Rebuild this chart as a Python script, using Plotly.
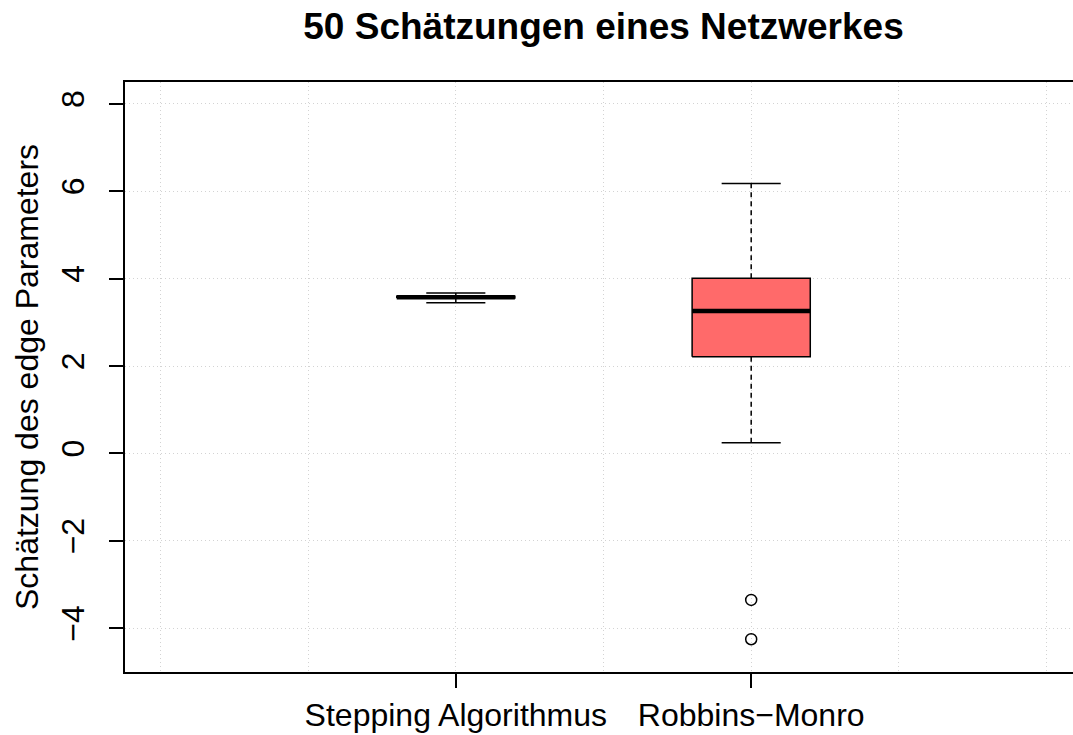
import plotly.graph_objects as go

# Five-number summaries of the two estimators (50 runs each)
groups = ["Stepping Algorithmus", "Robbins\u2212Monro"]
positions = [1, 2]
lower_whisker = [3.451, 0.247]
q1 = [3.555, 2.215]
median = [3.574, 3.26]
q3 = [3.595, 4.009]
upper_whisker = [3.673, 6.18]
box_fill = ["#FFFFFF", "#FF6A6A"]

# Outlying estimates (Robbins-Monro only)
outlier_x = [2, 2]
outlier_y = [-3.35, -4.25]

y_ticks = [-4, -2, 0, 2, 4, 6, 8]
y_ticktext = [("\u2212" + str(-v)) if v < 0 else str(v) for v in y_ticks]

FONT = "Liberation Sans, Arial, Helvetica, sans-serif"
BOX_HALF = 0.2      # half box width in x units
STAPLE_HALF = 0.1   # half staple width

fig = go.Figure()

for i, x in enumerate(positions):
    # dashed whiskers from box edge to staple
    for lo, hi in ((lower_whisker[i], q1[i]), (q3[i], upper_whisker[i])):
        fig.add_trace(go.Scatter(
            x=[x, x], y=[lo, hi], mode="lines",
            line=dict(color="black", width=1.5, dash="5px,4px"),
            hoverinfo="skip", showlegend=False))
    # staples
    for w in (lower_whisker[i], upper_whisker[i]):
        fig.add_trace(go.Scatter(
            x=[x - STAPLE_HALF, x + STAPLE_HALF], y=[w, w], mode="lines",
            line=dict(color="black", width=1.5),
            hoverinfo="skip", showlegend=False))
    # box
    fig.add_trace(go.Scatter(
        x=[x - BOX_HALF, x + BOX_HALF, x + BOX_HALF, x - BOX_HALF, x - BOX_HALF],
        y=[q1[i], q1[i], q3[i], q3[i], q1[i]],
        mode="lines", fill="toself", fillcolor=box_fill[i],
        line=dict(color="black", width=1.5),
        hoverinfo="skip", showlegend=False))
    # median
    fig.add_trace(go.Scatter(
        x=[x - BOX_HALF, x + BOX_HALF], y=[median[i], median[i]], mode="lines",
        line=dict(color="black", width=4.5),
        hoverinfo="skip", showlegend=False))

fig.add_trace(go.Scatter(
    x=outlier_x, y=outlier_y, mode="markers",
    marker=dict(symbol="circle-open", size=11, color="black", line=dict(width=1.5)),
    hoverinfo="skip", showlegend=False))

grid_style = dict(showgrid=True, gridcolor="#d3d3d3", gridwidth=1, griddash="1px,3px")

fig.update_layout(
    width=1073, height=735,
    margin=dict(l=125, r=0, t=82, b=63),
    plot_bgcolor="white", paper_bgcolor="white",
    font=dict(family=FONT, size=32, color="black"),
    title=dict(
        text="<b>50 Schätzungen eines Netzwerkes</b>",
        font=dict(family=FONT, size=37, color="black"),
        x=603.5 / 1073, xref="container", xanchor="center",
        y=1 - 26 / 735, yref="container", yanchor="middle"),
    xaxis=dict(
        range=[-0.12, 3.0895], tickmode="array", tickvals=positions, ticktext=groups,
        ticks="outside", ticklen=14, tickwidth=1.5, tickcolor="black",
        showline=True, linecolor="black", linewidth=2, mirror=True,
        zeroline=False,
        minor=dict(tick0=0, dtick=0.5, ticks="", **grid_style),
        **grid_style),
    yaxis=dict(
        range=[-5, 8.5], tickmode="array", tickvals=y_ticks, ticktext=y_ticktext,
        tickangle=-90, ticks="outside", ticklen=14, tickwidth=1.5, tickcolor="black",
        ticklabelstandoff=12,
        showline=True, linecolor="black", linewidth=2,
        zeroline=False, **grid_style),
    annotations=[dict(
        text="Schätzung des edge Parameters", textangle=-90,
        xref="paper", yref="paper", x=(27 - 125) / 948, y=0.5,
        xanchor="center", yanchor="middle", showarrow=False,
        font=dict(family=FONT, size=32, color="black"))],
)

fig.write_html("out.html")
